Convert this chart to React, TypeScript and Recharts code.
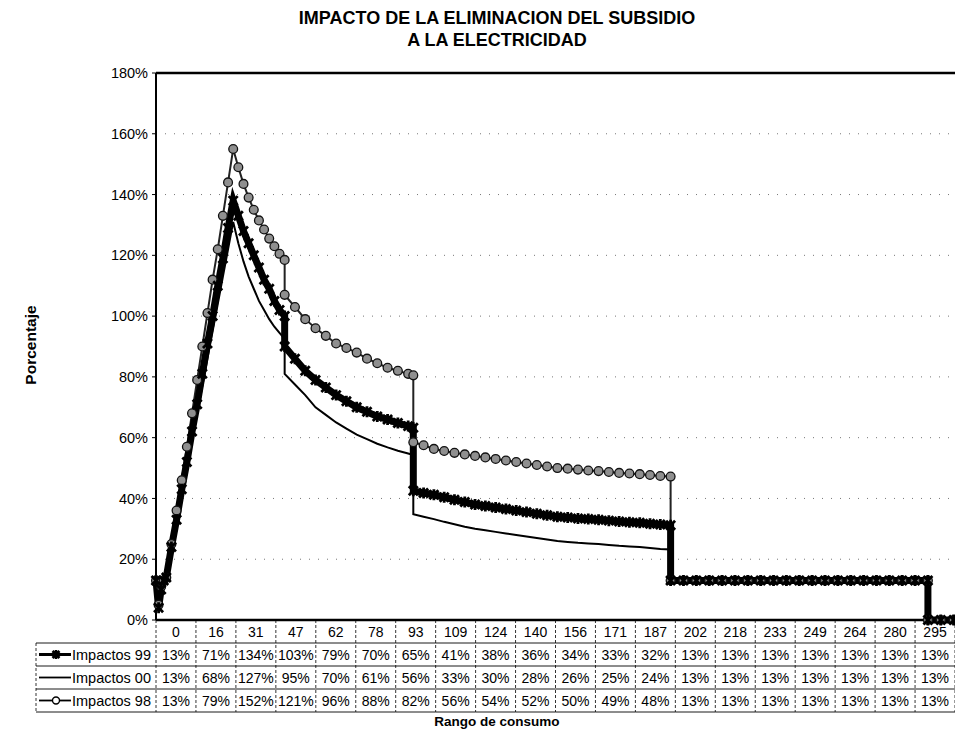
import { LineChart, Line, XAxis, YAxis, CartesianGrid, ReferenceLine } from 'recharts';

// consumo (kWh) sampled along the curves; repeated values mark the steps
const kwh = [
  0, 1, 2, 3, 4, 6, 8, 10, 12, 14, 16, 18, 20, 22, 24, 26, 28, 30, 32, 34, 36, 38, 40, 42, 44, 46, 48, 50,
  50, 54, 58, 62, 66, 70, 74, 78, 82, 86, 90, 94, 98, 100,
  100, 104, 108, 112, 116, 120, 124, 128, 132, 136, 140, 144, 148, 152, 156, 160, 164, 168, 172, 176, 180, 184, 188, 192, 196, 200,
  200, 205, 210, 215, 220, 225, 230, 235, 240, 245, 250, 255, 260, 265, 270, 275, 280, 285, 290, 295, 300,
  300, 305, 310,
];

const impactos99 = [
  13, 4, 10, 13, 14, 24, 33, 43, 52, 62, 71, 81, 91, 100, 110, 119, 129, 138, 133, 128, 124, 120, 116, 112, 109, 105, 102, 100,
  90, 86, 82, 79, 76.5, 74, 72, 70, 68.5, 67, 66, 64.8, 63.8, 63.3,
  42.5, 41.8, 41.2, 40.4, 39.6, 38.8, 38, 37.5, 37, 36.5, 36, 35.5, 35, 34.5, 34, 33.7, 33.4, 33.2, 33, 32.7, 32.4, 32.2, 32, 31.7, 31.4, 31.2,
  13, 13, 13, 13, 13, 13, 13, 13, 13, 13, 13, 13, 13, 13, 13, 13, 13, 13, 13, 13, 13,
  0, 0, 0,
];

const impactos00 = [
  13, 3, 9, 13, 14, 23, 32, 41, 50, 59, 68, 77, 86, 95, 104, 113, 122, 131, 124, 118, 113, 109, 105, 102, 99, 96.5, 94.5, 92.5,
  81, 77.5, 74, 70, 67.5, 65, 63, 61, 59.5, 58, 56.8, 55.7, 54.8, 54.3,
  34.8, 34, 33.2, 32.3, 31.5, 30.7, 30, 29.5, 29, 28.5, 28, 27.5, 27, 26.5, 26, 25.7, 25.4, 25.2, 25, 24.7, 24.4, 24.2, 24, 23.7, 23.4, 23.2,
  13, 13, 13, 13, 13, 13, 13, 13, 13, 13, 13, 13, 13, 13, 13, 13, 13, 13, 13, 13, 13,
  0, 0, 0,
];

const impactos98 = [
  13, 5, 11, 13, 14, 25, 36, 46, 57, 68, 79, 90, 101, 112, 122, 133, 144, 155, 149, 143.5, 139, 135, 131.5, 128.5, 125.5, 123, 120.5, 118.5,
  107, 103, 99, 96, 93.5, 91, 89.5, 88, 86, 84.5, 83, 82, 81, 80.5,
  58.5, 57.5, 56.3, 55.6, 55, 54.5, 54, 53.5, 53, 52.5, 52, 51.5, 51, 50.5, 50, 49.8, 49.5, 49.2, 49, 48.7, 48.4, 48.2, 48, 47.7, 47.4, 47.2,
  13, 13, 13, 13, 13, 13, 13, 13, 13, 13, 13, 13, 13, 13, 13, 13, 13, 13, 13, 13, 13,
  0, 0, 0,
];

// data table under the chart
const categories = ['0', '16', '31', '47', '62', '78', '93', '109', '124', '140', '156', '171', '187', '202', '218', '233', '249', '264', '280', '295'];
const tabla99 = [13, 71, 134, 103, 79, 70, 65, 41, 38, 36, 34, 33, 32, 13, 13, 13, 13, 13, 13, 13];
const tabla00 = [13, 68, 127, 95, 70, 61, 56, 33, 30, 28, 26, 25, 24, 13, 13, 13, 13, 13, 13, 13];
const tabla98 = [13, 79, 152, 121, 96, 88, 82, 56, 54, 52, 50, 49, 48, 13, 13, 13, 13, 13, 13, 13];
const seriesNames = ['Impactos 99', 'Impactos 00', 'Impactos 98'];

const yTicks = [0, 20, 40, 60, 80, 100, 120, 140, 160, 180];

const data = kwh.map((k, i) => ({ kwh: k, i99: impactos99[i], i00: impactos00[i], i98: impactos98[i] }));

const W = 955;
const H = 734;
const LEFT = 156;
const TOP = 73;
const AXIS_H = 114;
const CAT_STEP = 295 / 19;
const X_MAX = categories.length * CAT_STEP;
const COL_W = (W - LEFT) / categories.length;
const ROW_H = 23;
const LEGEND_W = 120;
const FONT = '"Liberation Sans", Arial, sans-serif';

const starPath = (cx: number, cy: number, s: number) =>
  `M${cx - s},${cy - s}L${cx + s},${cy + s}M${cx + s},${cy - s}L${cx - s},${cy + s}M${cx},${cy - s - 1}L${cx},${cy + s + 1}`;

const StarDot = (props: any) => {
  const { cx, cy, index } = props;
  if (cx == null || cy == null) return <g key={`s-${index}`} />;
  return <path key={`s-${index}`} d={starPath(cx, cy, 4.5)} stroke="#000" strokeWidth={2.8} fill="none" />;
};

const CircleDot = (props: any) => {
  const { cx, cy, index } = props;
  if (cx == null || cy == null) return <g key={`c-${index}`} />;
  return <circle key={`c-${index}`} cx={cx} cy={cy} r={4.4} fill="#8f8f8f" stroke="#111" strokeWidth={1.3} />;
};

const LegendKey = ({ row, x, y }: { row: number; x: number; y: number }) => {
  if (row === 0)
    return (
      <g>
        <line x1={x} y1={y} x2={x + 32} y2={y} stroke="#000" strokeWidth={3} />
        <path d={starPath(x + 17, y, 3.5)} stroke="#000" strokeWidth={2.6} />
      </g>
    );
  if (row === 1) return <line x1={x} y1={y} x2={x + 32} y2={y} stroke="#000" strokeWidth={1.8} />;
  return (
    <g>
      <line x1={x} y1={y} x2={x + 32} y2={y} stroke="#000" strokeWidth={1.8} />
      <circle cx={x + 17} cy={y} r={3.5} fill="#fff" stroke="#000" strokeWidth={1.4} />
    </g>
  );
};

const TableTick = (props: any) => {
  const { x, y, index } = props;
  const left = x - COL_W / 2;
  const right = x + COL_W / 2;
  const rows = [tabla99, tabla00, tabla98];
  const bottom = y + ROW_H * 4;
  return (
    <g fontFamily={FONT} fontSize={14} fill="#000">
      <line x1={right} y1={y} x2={right} y2={bottom} stroke="#000" strokeWidth={0.8} strokeDasharray="3 2" />
      {index === 0 && <line x1={left} y1={y} x2={left} y2={bottom} stroke="#000" strokeWidth={0.8} strokeDasharray="3 2" />}
      {[1, 2, 3, 4].map((k) => (
        <line key={k} x1={left} y1={y + ROW_H * k} x2={right} y2={y + ROW_H * k} stroke="#000" strokeWidth={0.9} />
      ))}
      <text x={x} y={y + ROW_H * 0.5 + 5} textAnchor="middle">
        {categories[index]}
      </text>
      {rows.map((r, i) => (
        <text key={i} x={x} y={y + ROW_H * (i + 1.5) + 5} textAnchor="middle">
          {`${r[index]}%`}
        </text>
      ))}
      {index === 0 && (
        <g>
          <line x1={left - LEGEND_W} y1={y + ROW_H} x2={left - LEGEND_W} y2={bottom} stroke="#000" strokeWidth={0.8} strokeDasharray="3 2" />
          {[1, 2, 3, 4].map((k) => (
            <line key={k} x1={left - LEGEND_W} y1={y + ROW_H * k} x2={left} y2={y + ROW_H * k} stroke="#000" strokeWidth={0.9} />
          ))}
          {seriesNames.map((name, i) => (
            <g key={name}>
              <LegendKey row={i} x={left - LEGEND_W + 3} y={y + ROW_H * (i + 1.5)} />
              <text x={left - LEGEND_W + 36} y={y + ROW_H * (i + 1.5) + 5} fontSize={14.5}>
                {name}
              </text>
            </g>
          ))}
        </g>
      )}
    </g>
  );
};

export default function App() {
  return (
    <div style={{ position: 'fixed', left: 0, top: 0, width: W, height: H, background: '#fff', overflow: 'hidden', fontFamily: FONT }}>
      <div style={{ position: 'absolute', left: 0, width: 994, top: 7, textAlign: 'center', fontWeight: 'bold', fontSize: 18, lineHeight: '22px' }}>
        IMPACTO DE LA ELIMINACION DEL SUBSIDIO
        <br />A LA ELECTRICIDAD
      </div>
      <div
        style={{
          position: 'absolute',
          left: 31,
          top: 345,
          transform: 'translate(-50%, -50%) rotate(-90deg)',
          fontWeight: 'bold',
          fontSize: 15.5,
          whiteSpace: 'nowrap',
        }}
      >
        Porcentaje
      </div>
      <div style={{ position: 'absolute', left: 0, width: 994, top: 714, textAlign: 'center', fontWeight: 'bold', fontSize: 13.5 }}>
        Rango de consumo
      </div>
      <div style={{ position: 'absolute', left: 0, top: 0 }}>
        <LineChart width={W} height={H} data={data} margin={{ top: TOP, right: 0, left: 0, bottom: 0 }}>
          <CartesianGrid vertical={false} stroke="#777" strokeDasharray="1 8" />
          <XAxis
            dataKey="kwh"
            type="number"
            domain={[0, X_MAX]}
            ticks={categories.map((_, i) => (i + 0.5) * CAT_STEP)}
            interval={0}
            height={AXIS_H}
            tickSize={0}
            tickMargin={0}
            tickLine={false}
            axisLine={{ stroke: '#000', strokeWidth: 2.5 }}
            tick={<TableTick />}
          />
          <YAxis
            type="number"
            domain={[0, 180]}
            ticks={yTicks}
            width={LEFT}
            tickFormatter={(v: number) => `${v}%`}
            axisLine={{ stroke: '#000', strokeWidth: 2 }}
            tickLine={{ stroke: '#000' }}
            tickSize={4}
            tickMargin={4}
            tick={{ fill: '#000', fontSize: 14.5, fontFamily: FONT }}
          />
          <ReferenceLine y={180} stroke="#000" strokeWidth={2.5} />
          <Line type="linear" dataKey="i98" stroke="#222" strokeWidth={2} dot={<CircleDot />} isAnimationActive={false} />
          <Line type="linear" dataKey="i99" stroke="#000" strokeWidth={7} dot={<StarDot />} isAnimationActive={false} />
          <Line type="linear" dataKey="i00" stroke="#000" strokeWidth={2} dot={false} isAnimationActive={false} />
        </LineChart>
      </div>
    </div>
  );
}
